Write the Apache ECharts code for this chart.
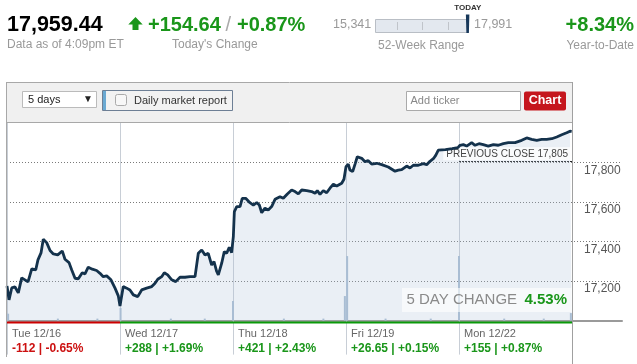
<!DOCTYPE html>
<html><head><meta charset="utf-8">
<script src="https://cdn.jsdelivr.net/npm/echarts@6.0.0/dist/echarts.min.js"></script>
<style>html,body{margin:0;padding:0;background:#fff}#c{width:637px;height:364px}</style>
</head><body><div id="c"></div>
<script>
// ---- data ----
// trading-day position (0 = Tue 12/16 open, 5 = Mon 12/22 close)
const tradeTime = [
  0,0.018,0.042,0.071,0.100,0.130,0.159,0.186,0.219,0.254,0.274,0.301,0.321,0.351,0.381,0.410,0.449,0.489,0.513,0.549,0.573,0.602,0.631,0.666,0.690,0.719,0.755,0.793,0.823,0.852,0.882,0.920,0.956,0.985,1.000,
  1.009,1.029,1.059,1.088,1.118,1.157,1.192,1.236,1.281,1.310,1.334,1.369,1.392,1.422,1.458,1.493,1.531,1.575,1.619,1.664,1.693,1.723,1.752,1.781,1.811,1.832,1.856,1.870,1.900,1.923,1.944,1.967,1.988,2.003,
  2.012,2.033,2.062,2.082,2.112,2.150,2.180,2.210,2.233,2.254,2.283,2.312,2.342,2.372,2.416,2.445,2.481,2.519,2.549,2.578,2.608,2.652,2.696,2.726,2.746,2.770,2.799,2.829,2.858,2.888,2.918,2.962,2.982,3.000,
  3.020,3.035,3.059,3.080,3.100,3.139,3.168,3.197,3.227,3.272,3.316,3.374,3.434,3.463,3.493,3.537,3.566,3.596,3.640,3.684,3.714,3.743,3.773,3.794,3.817,3.832,3.880,3.940,3.990,
  4.009,4.038,4.068,4.112,4.142,4.177,4.215,4.259,4.304,4.348,4.392,4.437,4.496,4.555,4.599,4.643,4.688,4.732,4.776,4.821,4.865,4.909,4.953,4.982,4.997
];
const dowValues = [
  17175,17105,17165,17170,17140,17216,17206,17196,17261,17256,17307,17342,17411,17394,17354,17337,17332,17352,17310,17293,17256,17214,17211,17242,17236,17270,17260,17253,17239,17222,17226,17206,17164,17125,17074,
  17105,17172,17164,17155,17130,17121,17155,17164,17172,17189,17209,17222,17242,17231,17206,17197,17219,17219,17222,17222,17340,17357,17332,17340,17281,17298,17248,17231,17290,17349,17340,17371,17343,17424,
  17551,17576,17576,17618,17618,17596,17584,17596,17584,17545,17568,17559,17576,17613,17626,17618,17640,17660,17652,17640,17660,17657,17652,17643,17657,17638,17657,17646,17669,17689,17680,17694,17714,17778,
  17791,17761,17753,17791,17828,17820,17803,17808,17791,17795,17788,17776,17755,17760,17763,17781,17771,17785,17785,17793,17788,17805,17818,17835,17861,17869,17864,17869,17874,
  17886,17889,17882,17899,17886,17894,17889,17882,17889,17886,17894,17899,17899,17911,17923,17916,17911,17916,17916,17919,17928,17939,17949,17957,17955
];
const volTime   = [0.01, 0.45, 0.8, 1.005, 1.45, 1.75, 2.0, 2.45, 2.8, 2.99, 3.01, 3.35, 3.75, 4.0, 4.4, 4.75, 4.99];
const volValues = [3.5, 1, 1, 6.4, 1, 1, 9.9, 1, 1, 12.4, 32.6, 1, 1, 32.6, 1, 1, 3.8];
const dayLabels  = ['Tue 12/16', 'Wed 12/17', 'Thu 12/18', 'Fri 12/19', 'Mon 12/22'];
const dayChanges = ['-112 | -0.65%', '+288 | +1.69%', '+421 | +2.43%', '+26.65 | +0.15%', '+155 | +0.87%'];
const dayUp      = [false, true, true, true, true];
const priceTicks = [17200, 17400, 17600, 17800];
const previousClose = 17805;
const lastPrice = 17959.44;
const weekLow = 15341, weekHigh = 17991;

// ---- styles ----
const FONT = '"Liberation Sans", Arial, sans-serif';
const GREEN = '#1a961a', RED = '#cc1111', GRAY = '#999999';

function txt(x, y, text, size, color, extra) {
  return {
    type: 'text', x: x, y: y, z: 50,
    style: Object.assign({ text: text, fill: color, fontSize: size, fontFamily: FONT,
      textVerticalAlign: 'middle', textAlign: 'left' }, (extra || {}))
  };
}
function line(x1, y1, x2, y2, color, w, z) {
  return { type: 'line', z: z || 40, shape: { x1, y1, x2, y2 }, style: { stroke: color, lineWidth: w || 1 } };
}
function rect(x, y, w, h, fill, stroke, r, z) {
  return { type: 'rect', z: z || 30, shape: { x, y, width: w, height: h, r: r || 0 },
    style: { fill: fill, stroke: stroke || null, lineWidth: 1 } };
}

const markerX = 375 + (lastPrice - weekLow) / (weekHigh - weekLow) * 94;

const fiveBox = rect(402, 288, 170, 24, 'rgba(255,255,255,0.6)', null, 0, 60);
const fiveLbl = txt(406.5, 300, '5 DAY CHANGE', 15, '#8a8a8a'); fiveLbl.z = 61;
const fiveVal = txt(567, 300, '4.53%', 15, GREEN, { fontWeight: 'bold', textAlign: 'right' }); fiveVal.z = 61;

const graphics = [
  // header
  txt(7, 25, '17,959.44', 21.5, '#000', { fontWeight: 'bold' }),
  txt(7, 44.5, 'Data as of 4:09pm ET', 12, GRAY),
  { type: 'polygon', z: 50, shape: { points: [[135.5,17],[142.7,24.5],[138.5,24.5],[138.5,30],[132.5,30],[132.5,24.5],[128.3,24.5]] }, style: { fill: GREEN } },
  txt(148, 25, '+154.64', 20, GREEN, { fontWeight: 'bold' }),
  txt(225.5, 25, '/', 20, '#aaaaaa'),
  txt(237, 25, '+0.87%', 20, GREEN, { fontWeight: 'bold' }),
  txt(172, 44.5, "Today's Change", 12, GRAY),
  txt(333, 25, weekLow.toLocaleString('en-US'), 12.5, GRAY),
  rect(375.5, 19.5, 93, 13, '#e3e8ef', '#b9bec5'),
  line(397.5, 22, 397.5, 30, '#c0c4ca', 1),
  line(422.5, 22, 422.5, 30, '#c0c4ca', 1),
  line(448.5, 22, 448.5, 30, '#c0c4ca', 1),
  { type: 'polygon', z: 50, shape: { points: [[markerX-2,14.5],[markerX+1.5,14.5],[markerX+1,33],[markerX-1.5,33]] }, style: { fill: '#17385a' } },
  txt(markerX, 8, 'TODAY', 8, '#333', { fontWeight: 'bold', textAlign: 'center' }),
  txt(474, 25, weekHigh.toLocaleString('en-US'), 12.5, GRAY),
  txt(378, 45.5, '52-Week Range', 12, GRAY),
  txt(634, 25, '+8.34%', 20, GREEN, { fontWeight: 'bold', textAlign: 'right' }),
  txt(634, 45.5, 'Year-to-Date', 12, GRAY, { textAlign: 'right' }),
  // panel
  rect(7, 83, 565, 39.5, '#f0f0f0', null, 0, 1),
  line(6.5, 82.5, 572.5, 82.5, '#a8a8a8', 1),
  line(6.5, 122.5, 572.5, 122.5, '#a8a8a8', 1),
  line(6.5, 82, 6.5, 357, '#a8a8a8', 1),
  line(572.5, 82, 572.5, 364, '#a0a0a0', 1),
  // controls
  rect(22.5, 91.5, 74, 16, '#fff', '#bbbbbb'),
  txt(28, 99.5, '5 days', 11, '#222'),
  txt(83, 99.5, '\u25BC', 10, '#222'),
  rect(102.5, 90.5, 130, 20, '#f2f2f2', '#6d7f95'),
  rect(103, 91, 3, 19, '#6aa9d2', null, 0, 31),
  rect(115.5, 94.5, 11, 11, '#f7f7f7', '#aaaaaa', 2, 31),
  txt(134, 100.5, 'Daily market report', 11, '#333'),
  rect(406.5, 91.5, 114, 19, '#fff', '#aaaaaa'),
  txt(410.5, 101, 'Add ticker', 11, '#888'),
  rect(524, 91.5, 42, 19, '#c5161d', null, 2),
  txt(545, 101, 'Chart', 12.5, '#fff', { fontWeight: 'bold', textAlign: 'center' }),
  // 5 day change box
  fiveBox, fiveLbl, fiveVal
];

const chart = echarts.init(document.getElementById('c'), null, { renderer: 'canvas' });

const baselineSeries = dayUp.map((up, i) => ({
  type: 'line', yAxisIndex: 1, data: [[i, -1], [i + 1, -1]], symbol: 'none', clip: false, silent: true,
  lineStyle: { color: up ? '#0a9a0a' : '#cc0000', width: 2 }, z: 8, animation: false
}));

chart.setOption({
  animation: false,
  textStyle: { fontFamily: FONT },
  grid: { left: 7, right: 15, top: 122.7, height: 197.9, containLabel: false },
  xAxis: {
    type: 'value', min: 0, max: 5 + 50 / 113, interval: 1, offset: 2,
    axisLine: { show: true, lineStyle: { color: '#9a9a9a', width: 2 } },
    axisTick: { show: true, customValues: [0, 1, 2, 3, 4, 5], length: 34, lineStyle: { color: '#c8ced6' } },
    splitLine: { show: true, lineStyle: { color: '#c8ced6', width: 1 } },
    axisLabel: {
      customValues: [0, 1, 2, 3, 4], margin: 4, align: 'left', padding: [0, 0, 0, 5],
      formatter: function (v) {
        const i = Math.round(v);
        if (Math.abs(v - i) > 1e-6 || i < 0 || i > 4) return '';
        return '{d|' + dayLabels[i] + '}\n{' + (dayUp[i] ? 'up' : 'dn') + '|' + dayChanges[i] + '}';
      },
      rich: {
        d: { fontSize: 11, color: '#666', lineHeight: 14, fontFamily: FONT },
        up: { fontSize: 12, color: GREEN, fontWeight: 'bold', lineHeight: 17, fontFamily: FONT },
        dn: { fontSize: 12, color: RED, fontWeight: 'bold', lineHeight: 17, fontFamily: FONT }
      }
    }
  },
  yAxis: [{
    type: 'value', min: 17000, max: 18000, interval: 200, position: 'right',
    axisLine: { show: false },
    axisTick: { show: false, customValues: priceTicks },
    splitLine: { show: true, lineStyle: { color: '#7a7a7a', type: [1, 2], width: 1 } },
    axisLabel: {
      customValues: priceTicks, inside: true, margin: 38, align: 'left', verticalAlign: 'top',
      color: '#555', fontSize: 12, fontFamily: FONT, padding: [2, 0, 0, 0],
      formatter: v => v.toLocaleString('en-US')
    }
  }, {
    type: 'value', min: 0, max: 100, show: false
  }],
  graphic: graphics,
  series: [{
    name: 'DJIA', type: 'line', symbol: 'none', showSymbol: false, z: 5,
    data: tradeTime.map((t, i) => [t, dowValues[i]]),
    lineStyle: { color: '#14324c', width: 2.8 },
    areaStyle: { color: 'rgba(170,190,214,0.36)', origin: 'start' },
    markLine: {
      silent: true, symbol: 'none', animation: false,
      lineStyle: { color: '#222', type: [2, 1], width: 1 },
      label: {
        show: true, position: 'insideEndTop', distance: [0, 1],
        formatter: 'PREVIOUS CLOSE ' + previousClose.toLocaleString('en-US'),
        color: '#444', fontSize: 10, fontFamily: FONT,
        backgroundColor: 'rgba(255,255,255,0.8)', padding: [2, 4, 1, 3]
      },
      data: [[{ coord: [4, previousClose] }, { coord: [5, previousClose] }]]
    }
  }, {
    name: 'Volume', type: 'bar', yAxisIndex: 1, barWidth: 2, z: 4, silent: true,
    data: volTime.map((t, i) => [t, volValues[i]]),
    itemStyle: { color: '#a8bdd2' }
  }].concat(baselineSeries)
});
</script>
</body></html>
